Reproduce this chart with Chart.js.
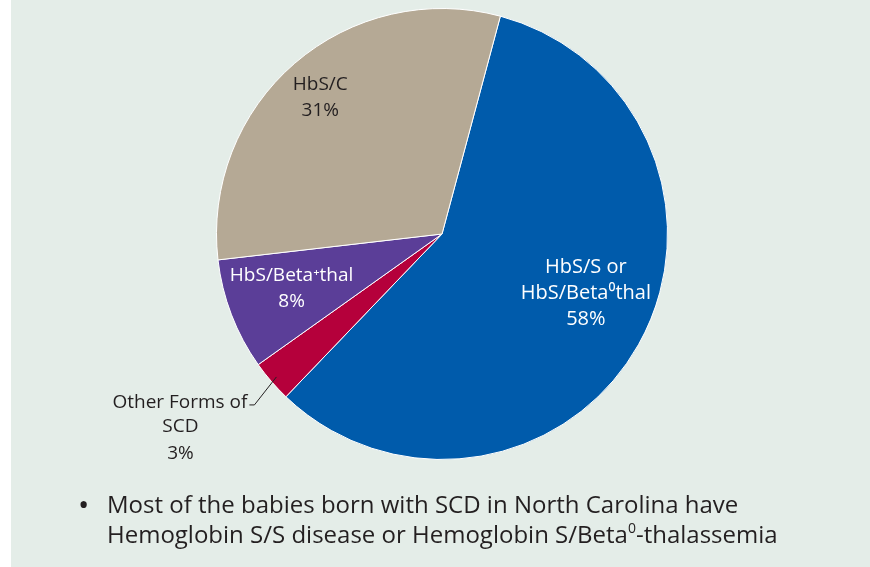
<!DOCTYPE html>
<html>
<head>
<meta charset="utf-8">
<script src="https://cdn.jsdelivr.net/npm/chart.js@4.4.1/dist/chart.umd.min.js"></script>
<style>
  html, body { margin: 0; padding: 0; }
  body { width: 870px; height: 567px; overflow: hidden; position: relative;
         background: linear-gradient(to right, #ffffff 11px, #e4ede8 11px); }
  #chart { position: absolute; left: 0; top: 0; }
  .note { position: absolute; left: 78px; top: 489px; font-family: "Open Sans", sans-serif;
          font-size: 24px; line-height: 30px; color: #231f20; }
  .note .dot { position: absolute; left: 0; top: 0; font-size: 30px; }
  .note .txt { margin-left: 29px; }
  .note sup { font-size: 14px; vertical-align: 10px; line-height: 0; }
</style>
</head>
<body>
<canvas id="chart" width="870" height="567"></canvas>
<div class="note"><span class="dot">•</span><div class="txt">Most of the babies born with SCD in North Carolina have<br>Hemoglobin S/S disease or Hemoglobin S/Beta<sup>0</sup>-thalassemia</div></div>
<script>
// data, clockwise starting a bit right of 12 o'clock
let categories = ['HbS/S or HbS/Beta0thal', 'Other Forms of SCD', 'HbS/Beta+thal', 'HbS/C'];
let shares = [58, 3, 8, 31];
let labelLines = [
    ['HbS/S or', 'HbS/Beta\u2070thal', '58%'],
    ['Other Forms of', 'SCD', '3%'],
    ['HbS/Beta\u207Athal', '8%'],
    ['HbS/C', '31%']
];
let colors = ['#005bab', '#b5003b', '#5b3e98', '#b5a995'];

// where each label sits: fraction of radius + angle shift (deg) from slice middle
let placement = [
    {r: 0.69, da: -7, color: '#ffffff', size: 20},
    null,
    {r: 0.71, da: 1, color: '#ffffff', size: 19},
    {r: 0.81, da: -1, color: '#231f20', size: 19}
];

const sliceLabels = {
    id: 'sliceLabels',
    afterDatasetsDraw(chart) {
        let ctx = chart.ctx;
        let arcs = chart.getDatasetMeta(0).data;
        ctx.save();
        ctx.textAlign = 'center';
        ctx.textBaseline = 'middle';
        arcs.forEach((arc, i) => {
            let p = arc.getProps(['x', 'y', 'startAngle', 'endAngle', 'outerRadius']);
            let mid = (p.startAngle + p.endAngle) / 2;
            let lines = labelLines[i];
            if (placement[i]) {
                let a = mid + placement[i].da * Math.PI / 180;
                let r = p.outerRadius * placement[i].r;
                let cx = p.x + Math.cos(a) * r, cy = p.y + Math.sin(a) * r;
                let lh = 26;
                ctx.font = placement[i].size + 'px "Open Sans", sans-serif';
                ctx.fillStyle = placement[i].color;
                lines.forEach((t, k) => {
                    ctx.fillText(t, cx, cy + (k - (lines.length - 1) / 2) * lh);
                });
            } else {
                // small slice: leader line out to the left
                let r = p.outerRadius * 0.97;
                let ex = p.x + Math.cos(mid) * r, ey = p.y + Math.sin(mid) * r;
                let kx = ex - 22, ky = ey + 28;
                ctx.strokeStyle = '#231f20';
                ctx.lineWidth = 1;
                ctx.beginPath();
                ctx.moveTo(ex, ey);
                ctx.lineTo(kx, ky);
                ctx.lineTo(kx - 5, ky);
                ctx.stroke();
                ctx.font = '19px "Open Sans", sans-serif';
                ctx.fillStyle = '#231f20';
                ctx.textAlign = 'right';
                ctx.fillText(lines[0], kx - 7, ky - 2);
                ctx.textAlign = 'center';
                ctx.fillText(lines[1], kx - 74, ky + 22);
                ctx.fillText(lines[2], kx - 74, ky + 49);
            }
        });
        ctx.restore();
    }
};

new Chart(document.getElementById('chart'), {
    type: 'pie',
    data: {
        labels: categories,
        datasets: [{
            data: shares,
            backgroundColor: colors,
            borderColor: '#ffffff',
            borderWidth: 1
        }]
    },
    options: {
        responsive: false,
        animation: false,
        rotation: 15,
        layout: { padding: { left: 216, right: 202, top: 8, bottom: 107 } },
        plugins: { legend: { display: false }, tooltip: { enabled: false } }
    },
    plugins: [sliceLabels]
});
</script>
</body>
</html>
